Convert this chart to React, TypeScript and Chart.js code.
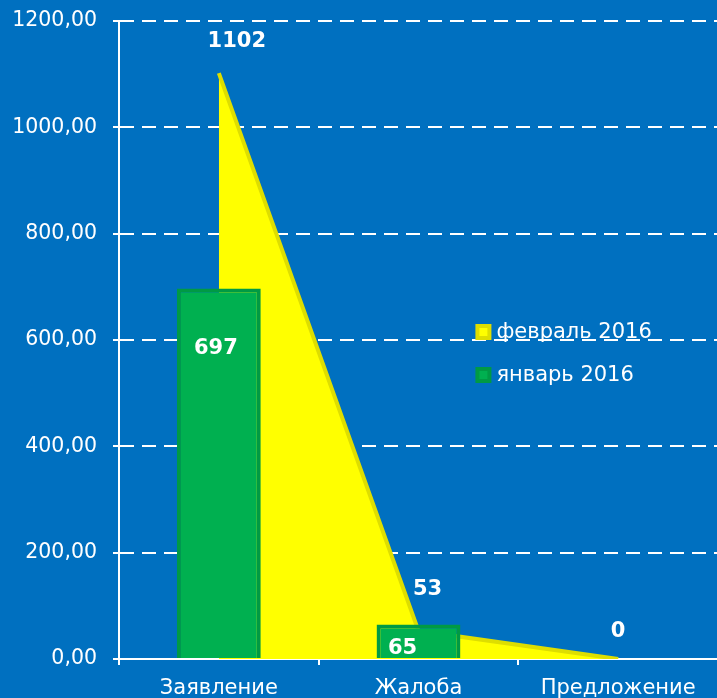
import React, { useEffect, useRef } from "react";
import { Chart, registerables } from "chart.js";

Chart.register(...registerables);

const categories = ["Заявление", "Жалоба", "Предложение"];
const february2016 = [1102, 53, 0];
const january2016 = [697, 65, 0];
const seriesNames = ["февраль 2016", "январь 2016"];
const yMin = 0;
const yMax = 1200;
const yStep = 200;

// label offsets relative to the drawn element (null = no label)
const febLabelOffsets: ([number, number] | null)[] = [[18, -32], [9, -41], [0, -27]];
const janLabelOffsets: ([number, number] | null)[] = [[-3, 60], [-16, 24], null];

const BG = "#0070C0";
const YELLOW = "#FFFF00";
const YELLOW_DARK = "#DEDE00";
const GREEN = "#00B050";
const GREEN_DARK = "#009A44";
const FONT = "'DejaVu Sans', Verdana, sans-serif";

const labelsPlugin = {
  id: "valueLabels",
  afterDatasetsDraw(chart: any) {
    const ctx = chart.ctx;
    ctx.save();
    ctx.fillStyle = "#FFFFFF";
    ctx.font = `bold 21px ${FONT}`;
    ctx.textAlign = "center";
    ctx.textBaseline = "middle";
    const draw = (dsIndex: number, values: number[], offs: ([number, number] | null)[]) => {
      const meta = chart.getDatasetMeta(dsIndex);
      meta.data.forEach((el: any, i: number) => {
        const o = offs[i];
        if (!o) return;
        ctx.fillText(String(values[i]), el.x + o[0], el.y + o[1]);
      });
    };
    draw(0, january2016, janLabelOffsets);
    draw(1, february2016, febLabelOffsets);

    // legend
    const area = chart.chartArea;
    const lx = area.left + 0.595 * (area.right - area.left);
    const items = [
      { name: seriesNames[0], fill: YELLOW, stroke: YELLOW_DARK },
      { name: seriesNames[1], fill: GREEN, stroke: GREEN_DARK },
    ];
    ctx.font = `21px ${FONT}`;
    ctx.textAlign = "left";
    items.forEach((it, i) => {
      const cy = area.top + 311 + i * 43;
      ctx.fillStyle = it.stroke;
      ctx.fillRect(lx, cy - 8, 16, 16);
      ctx.fillStyle = it.fill;
      ctx.fillRect(lx + 4, cy - 4, 8, 8);
      ctx.fillStyle = "#FFFFFF";
      ctx.fillText(it.name, lx + 21, cy + 1);
    });
    ctx.restore();
  },
};

export default function App() {
  const ref = useRef<HTMLCanvasElement | null>(null);
  useEffect(() => {
    document.body.style.margin = "0";
    document.body.style.background = BG;
    const chart = new Chart(ref.current as HTMLCanvasElement, {
      type: "bar",
      data: {
        labels: categories,
        datasets: [
          {
            type: "bar",
            label: seriesNames[1],
            data: january2016,
            backgroundColor: GREEN,
            borderColor: GREEN_DARK,
            borderWidth: 4,
            barPercentage: 0.42,
            categoryPercentage: 1,
            order: 0,
          } as any,
          {
            type: "line",
            label: seriesNames[0],
            data: february2016,
            backgroundColor: YELLOW,
            borderColor: YELLOW_DARK,
            borderWidth: 4,
            fill: "origin",
            tension: 0,
            pointRadius: 0,
            order: 1,
          } as any,
        ],
      },
      options: {
        responsive: false,
        animation: false,
        layout: { padding: { top: 21, right: 2, left: 0, bottom: 0 } },
        plugins: { legend: { display: false }, tooltip: { enabled: false } },
        scales: {
          x: {
            offset: true,
            grid: {
              offset: true,
              drawOnChartArea: false,
              drawTicks: true,
              tickLength: 6,
              color: "#FFFFFF",
              lineWidth: 2,
            },
            border: { display: true, color: "#FFFFFF", width: 2 },
            ticks: {
              color: "#FFFFFF",
              font: { family: FONT, size: 21 },
              padding: 11,
              maxRotation: 0,
              autoSkip: false,
            },
            afterFit: (s: any) => {
              s.height = 39;
              s.paddingLeft = 0;
              s.paddingRight = 0;
            },
          },
          y: {
            min: yMin,
            max: yMax,
            grid: {
              color: "#FFFFFF",
              lineWidth: 2,
              drawTicks: true,
              tickLength: 6,
              tickColor: "#FFFFFF",
            },
            border: { display: true, color: "#FFFFFF", width: 2, dash: [14, 8] },
            ticks: {
              stepSize: yStep,
              color: "#FFFFFF",
              font: { family: FONT, size: 20.5 },
              padding: 16,
              callback: (v: any) => Number(v).toFixed(2).replace(".", ","),
            },
            afterFit: (s: any) => {
              s.width = 119;
              s.paddingTop = 0;
              s.paddingBottom = 0;
            },
          },
        },
      },
      plugins: [labelsPlugin],
    });
    return () => chart.destroy();
  }, []);
  return (
    <div
      style={{
        position: "fixed",
        left: 0,
        top: 0,
        width: 717,
        height: 698,
        overflow: "hidden",
        background: BG,
      }}
    >
      <canvas ref={ref} width={720} height={698} style={{ display: "block" }} />
    </div>
  );
}
